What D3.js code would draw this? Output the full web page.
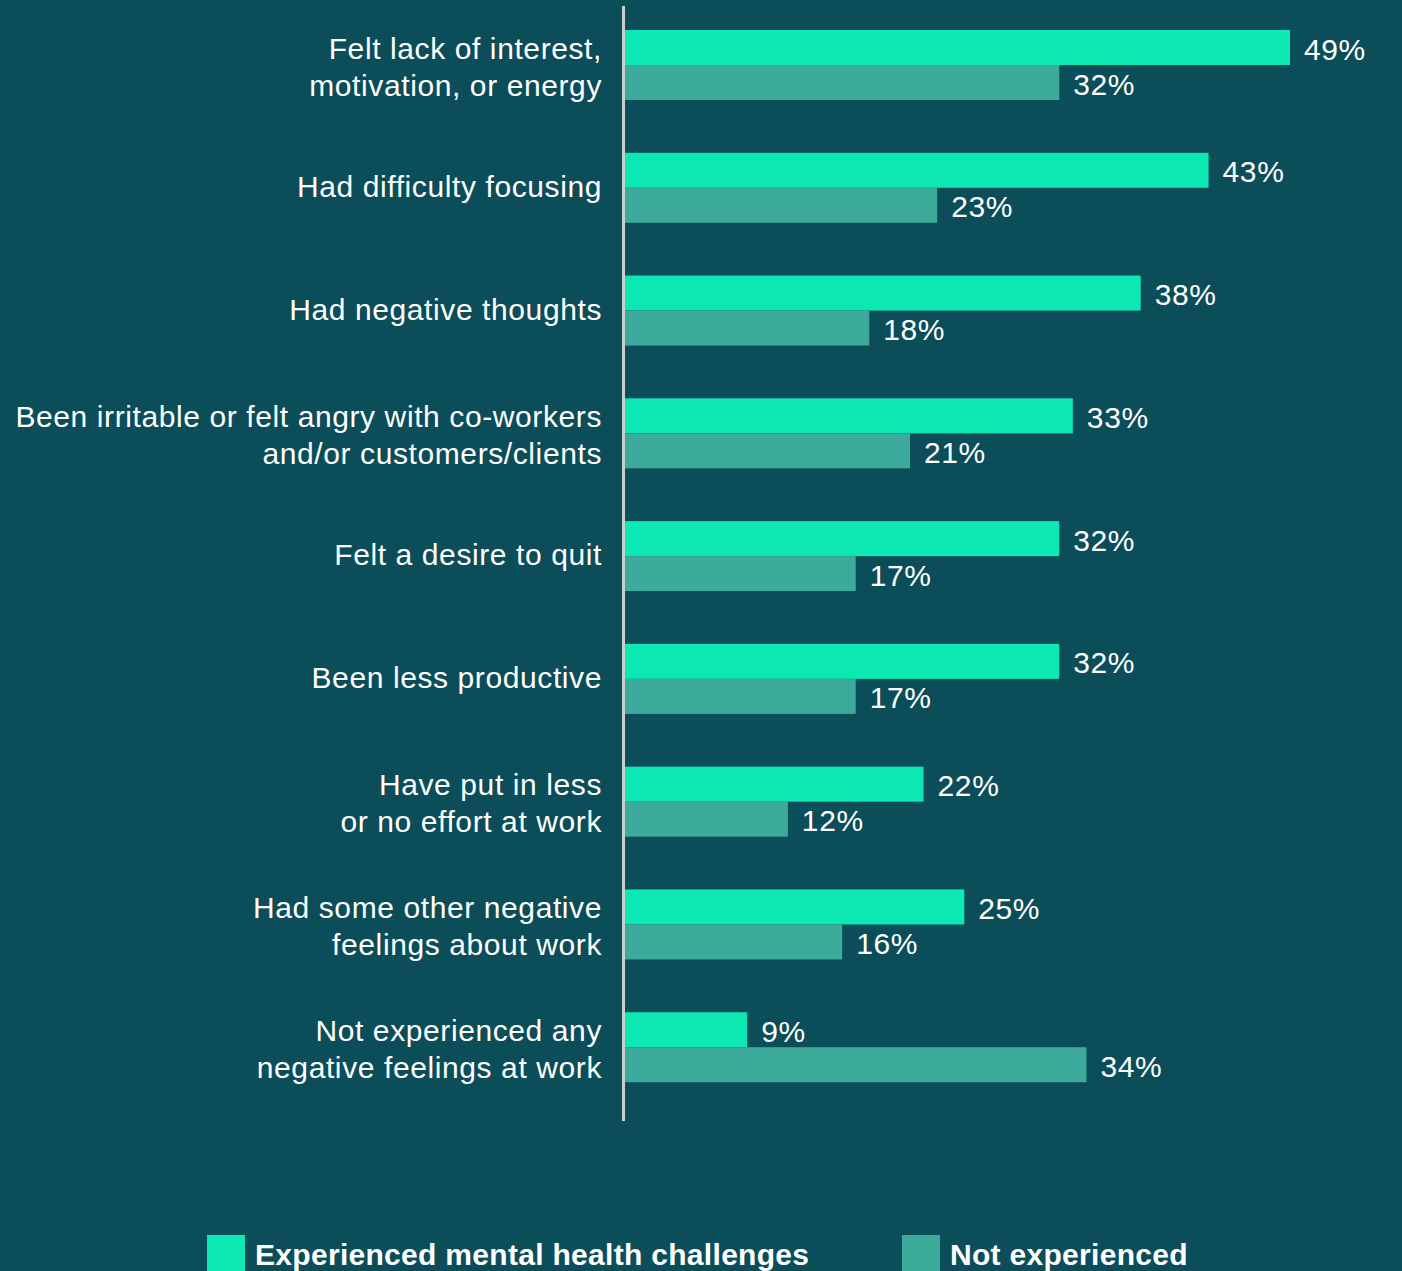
<!DOCTYPE html>
<html>
<head>
<meta charset="utf-8">
<script src="https://cdn.jsdelivr.net/npm/d3@7"></script>
<style>
  html, body { margin: 0; padding: 0; background: #0b4d58; }
  svg { display: block; }
  text { font-family: "Liberation Sans", Arial, Helvetica, sans-serif; fill: #ffffff; }
</style>
</head>
<body>
<svg id="chart" width="1402" height="1271"></svg>
<script>
// Survey items (multi-line labels split on "|")
const categories = [
  "Felt lack of interest,|motivation, or energy",
  "Had difficulty focusing",
  "Had negative thoughts",
  "Been irritable or felt angry with co-workers|and/or customers/clients",
  "Felt a desire to quit",
  "Been less productive",
  "Have put in less|or no effort at work",
  "Had some other negative|feelings about work",
  "Not experienced any|negative feelings at work"
];
const seriesNames = ["Experienced mental health challenges", "Not experienced"];
const experienced = [49, 43, 38, 33, 32, 32, 22, 25, 9];
const notExperienced = [32, 23, 18, 21, 17, 17, 12, 16, 34];

const colors = ["#0be8b2", "#3dab9b"];

const svg = d3.select("#chart");
const x0 = 625;
const x = d3.scaleLinear().domain([0, 49]).range([x0, 1290]);
const y = d3.scaleBand().domain(d3.range(categories.length)).range([30, 1135]).paddingInner(0).paddingOuter(0);
const barH = 35;

const rows = categories.map((c, i) => ({ label: c, values: [experienced[i], notExperienced[i]] }));

const g = svg.append("g");
const group = g.selectAll("g.row").data(rows).join("g")
  .attr("class", "row")
  .attr("transform", (d, i) => `translate(0,${y(i)})`);

group.selectAll("rect").data(d => d.values).join("rect")
  .attr("x", x0)
  .attr("y", (v, j) => j * barH)
  .attr("width", v => x(v) - x0)
  .attr("height", barH)
  .attr("fill", (v, j) => colors[j]);

group.selectAll("text.val").data(d => d.values).join("text")
  .attr("class", "val")
  .attr("x", v => x(v) + 14)
  .attr("y", (v, j) => j * barH + barH / 2 + 12)
  .attr("font-size", 30)
  .attr("letter-spacing", 0.6)
  .text(v => v + "%");

// Category labels, right aligned against the axis
group.each(function(d) {
  const lines = d.label.split("|");
  const t = d3.select(this).append("text")
    .attr("text-anchor", "end")
    .attr("font-size", 30)
    .attr("letter-spacing", 0.6);
  const base = barH + (lines.length > 1 ? 12 : 9);
  lines.forEach((ln, k) => {
    t.append("tspan")
      .attr("x", 602)
      .attr("y", base + (k - (lines.length - 1) / 2) * 37)
      .text(ln);
  });
});

// Vertical baseline
svg.append("line")
  .attr("x1", 623.5).attr("x2", 623.5)
  .attr("y1", 6).attr("y2", 1121)
  .attr("stroke", "#c9cfd0")
  .attr("stroke-width", 3);

// Legend
const legend = svg.append("g");
const legendX = [207, 902];
seriesNames.forEach((name, j) => {
  legend.append("rect")
    .attr("x", legendX[j]).attr("y", 1235)
    .attr("width", 38).attr("height", 40)
    .attr("fill", colors[j]);
  legend.append("text")
    .attr("x", legendX[j] + 48).attr("y", 1265)
    .attr("font-size", 30)
    .attr("font-weight", "bold")
    .attr("letter-spacing", 0.3)
    .text(name);
});
</script>
</body>
</html>
